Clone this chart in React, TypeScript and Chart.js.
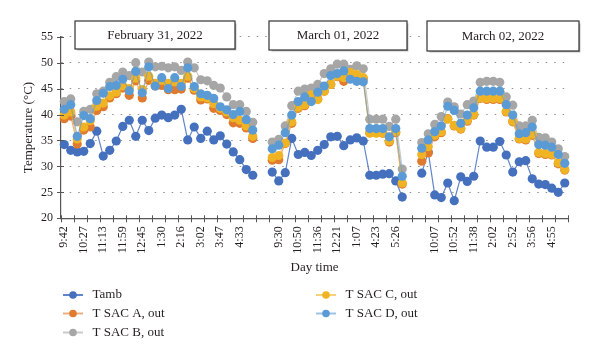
import React, { useEffect, useRef } from 'react';
import { Chart, registerables } from 'chart.js';

Chart.register(...registerables);

// ---- category labels per day (every third reading is labelled) ----
const labelsFeb31 = ['9:42', '', '', '10:27', '', '', '11:13', '', '', '11:59', '', '', '12:45', '', '', '1:30', '', '', '2:16', '', '', '3:02', '', '', '3:47', '', '', '4:33', '', ''];
const labelsMar01 = ['', '9:30', '', '', '10:50', '', '', '11:36', '', '', '12:21', '', '', '1:07', '', '', '4:23', '', '', '5:26', ''];
const labelsMar02 = ['', '', '10:07', '', '', '10:52', '', '', '11:38', '', '', '2:02', '', '', '2:52', '', '', '3:56', '', '', '4:55', '', ''];
const gapLabels = ['', ''];

const dayTitles = ['February 31, 2022', 'March 01, 2022', 'March 02, 2022'];

// ---- series values per day ----
const tambFeb31 = [34.2, 33.1, 32.8, 32.9, 34.4, 36.8, 32.0, 33.1, 34.9, 37.7, 38.9, 35.8, 38.9, 36.9, 39.3, 39.9, 39.4, 39.9, 41.0, 35.1, 37.6, 35.4, 36.8, 35.1, 35.9, 34.3, 32.8, 31.3, 29.4, 28.3];
const tambMar01 = [28.9, 27.2, 28.8, 35.4, 32.3, 32.7, 32.1, 33.1, 34.2, 35.7, 35.8, 34.0, 35.1, 35.5, 34.9, 28.3, 28.3, 28.5, 28.6, 27.2, 24.1];
const tambMar02 = [28.7, 32.8, 24.5, 24.0, 26.8, 23.4, 28.0, 27.1, 28.1, 34.9, 33.7, 33.7, 34.8, 32.2, 28.9, 30.9, 31.1, 27.6, 26.6, 26.5, 25.8, 25.0, 26.8];

const sacAFeb31 = [39.2, 39.7, 34.3, 37.0, 37.6, 40.8, 41.5, 43.2, 44.0, 45.1, 43.7, 46.5, 43.2, 46.6, 45.5, 45.6, 44.8, 44.8, 44.9, 47.0, 44.7, 42.8, 43.0, 41.2, 40.8, 40.0, 38.4, 38.3, 37.4, 35.4];
const sacAMar01 = [31.2, 31.3, 34.4, 38.3, 41.2, 41.7, 43.6, 43.0, 44.5, 45.8, 47.3, 46.4, 47.7, 47.4, 46.9, 36.5, 36.5, 36.4, 34.7, 36.5, 26.6];
const sacAMar02 = [31.0, 32.6, 35.7, 36.5, 39.2, 37.8, 37.2, 38.7, 39.9, 43.1, 42.9, 42.9, 42.9, 40.5, 38.6, 35.3, 35.1, 36.0, 32.5, 32.3, 32.2, 30.5, 29.3];

const sacBFeb31 = [42.5, 43.0, 38.6, 40.6, 41.0, 44.0, 44.5, 46.2, 47.3, 48.2, 47.5, 50.0, 48.2, 50.1, 49.2, 49.3, 49.0, 49.2, 48.5, 50.1, 49.0, 46.7, 46.5, 45.6, 45.1, 43.4, 41.9, 41.9, 40.6, 38.5];
const sacBMar01 = [34.7, 35.2, 37.8, 41.7, 44.5, 44.9, 45.1, 45.8, 47.9, 48.8, 49.7, 49.7, 48.7, 49.4, 48.8, 39.1, 39.1, 39.1, 37.7, 39.1, 29.5];
const sacBMar02 = [34.6, 36.3, 38.1, 39.6, 42.4, 41.5, 40.1, 41.9, 42.6, 46.2, 46.4, 46.4, 46.2, 43.4, 41.8, 37.8, 37.8, 38.9, 35.6, 35.5, 34.7, 33.4, 31.9];

const sacCFeb31 = [39.9, 40.5, 35.3, 37.6, 38.8, 41.6, 42.2, 43.6, 44.3, 45.5, 45.0, 47.0, 44.8, 47.4, 46.0, 46.6, 46.0, 46.3, 46.0, 47.4, 45.0, 43.4, 43.2, 42.1, 41.2, 40.5, 39.4, 38.9, 37.8, 35.8];
const sacCMar01 = [31.7, 32.1, 34.5, 38.6, 41.4, 41.9, 43.8, 42.9, 44.5, 45.8, 47.4, 47.1, 48.1, 47.7, 47.1, 36.4, 36.4, 36.4, 34.9, 36.7, 26.8];
const sacCMar02 = [32.3, 33.8, 36.0, 36.7, 39.1, 37.9, 37.3, 38.9, 40.0, 43.2, 43.1, 43.1, 43.1, 40.6, 38.7, 35.4, 35.3, 36.2, 32.7, 32.5, 32.3, 30.7, 29.4];

const sacDFeb31 = [41.0, 41.9, 35.8, 39.8, 39.2, 42.7, 44.1, 45.4, 45.6, 46.8, 44.6, 48.3, 44.2, 49.2, 45.5, 47.1, 45.0, 47.1, 45.4, 49.0, 45.4, 44.0, 43.7, 43.1, 41.5, 40.9, 40.0, 40.6, 39.0, 37.0];
const sacDMar01 = [33.4, 34.1, 36.5, 39.9, 42.5, 43.4, 42.5, 44.3, 45.5, 47.5, 47.9, 48.4, 46.8, 46.4, 46.3, 37.3, 37.3, 37.3, 35.7, 37.3, 28.1];
const sacDMar02 = [33.5, 35.1, 36.7, 37.8, 41.6, 40.8, 38.3, 39.9, 41.3, 44.5, 44.5, 44.5, 44.5, 41.9, 39.9, 36.3, 36.5, 37.6, 34.2, 34.1, 33.7, 32.3, 30.6];

const yTicks = [20, 25, 30, 35, 40, 45, 50, 55];

const categories = [...labelsFeb31, ...gapLabels, ...labelsMar01, ...gapLabels, ...labelsMar02];
const gap = [null, null];
const joinDays = (a: number[], b: number[], c: number[]) => [...a, ...gap, ...b, ...gap, ...c];

const SERIF = "'Liberation Serif', 'Times New Roman', serif";
const TEXT = '#231f20';

const seriesDefs = [
  { label: 'Tamb', data: joinDays(tambFeb31, tambMar01, tambMar02), color: '#4470BE', line: 'rgba(68,112,190,0.85)', order: 5 },
  { label: 'T SAC A, out', data: joinDays(sacAFeb31, sacAMar01, sacAMar02), color: '#E07A2E', line: 'rgba(224,122,46,0.6)', order: 4 },
  { label: 'T SAC B, out', data: joinDays(sacBFeb31, sacBMar01, sacBMar02), color: '#A6A6A6', line: 'rgba(166,166,166,0.6)', order: 3 },
  { label: 'T SAC C, out', data: joinDays(sacCFeb31, sacCMar01, sacCMar02), color: '#F0B323', line: 'rgba(240,179,35,0.6)', order: 2 },
  { label: 'T SAC D, out', data: joinDays(sacDFeb31, sacDMar01, sacDMar02), color: '#5B9BD5', line: 'rgba(91,155,213,0.6)', order: 1 },
];

// legend layout: line start x and row y per series
const legendSlots = [
  { x: 63, y: 295 },
  { x: 63, y: 313.5 },
  { x: 63, y: 332.5 },
  { x: 316, y: 295 },
  { x: 316, y: 313.5 },
];

const dayBoxes = [
  { x: 75, y: 21, w: 160, h: 28 },
  { x: 269, y: 21, w: 138, h: 29 },
  { x: 427, y: 21, w: 152, h: 30 },
];

const decorPlugin = {
  id: 'decor',
  afterDraw(chart: any) {
    const { ctx } = chart;
    const xs = chart.scales.x;
    const ys = chart.scales.y;
    ctx.save();
    // cross tick marks
    ctx.strokeStyle = '#555';
    ctx.lineWidth = 1;
    const n = categories.length;
    const w = (xs.right - xs.left) / n;
    ctx.beginPath();
    for (let k = 0; k <= n; k += 2) {
      const x = Math.round(xs.left + k * w) + 0.5;
      ctx.moveTo(x, ys.bottom - 3);
      ctx.lineTo(x, ys.bottom + 4);
    }
    yTicks.forEach((v) => {
      const y = Math.round(ys.getPixelForValue(v)) + 0.5;
      ctx.moveTo(xs.left - 4, y);
      ctx.lineTo(xs.left + 3, y);
    });
    ctx.stroke();

    // day boxes
    dayBoxes.forEach((b, i) => {
      ctx.save();
      ctx.shadowColor = 'rgba(0,0,0,0.35)';
      ctx.shadowOffsetX = 1.5;
      ctx.shadowOffsetY = 1.5;
      ctx.shadowBlur = 1.5;
      ctx.fillStyle = '#fff';
      ctx.fillRect(b.x, b.y, b.w, b.h);
      ctx.restore();
      ctx.strokeStyle = '#333';
      ctx.lineWidth = 1.2;
      ctx.strokeRect(b.x, b.y, b.w, b.h);
      ctx.fillStyle = TEXT;
      ctx.font = `13px ${SERIF}`;
      ctx.textAlign = 'center';
      ctx.textBaseline = 'middle';
      ctx.fillText(dayTitles[i], b.x + b.w / 2, b.y + b.h / 2 + 0.5);
    });

    // legend
    seriesDefs.forEach((s, i) => {
      const slot = legendSlots[i];
      ctx.strokeStyle = s.line;
      ctx.lineWidth = 2;
      ctx.beginPath();
      ctx.moveTo(slot.x, slot.y);
      ctx.lineTo(slot.x + 20, slot.y);
      ctx.stroke();
      ctx.fillStyle = s.color;
      ctx.beginPath();
      ctx.arc(slot.x + 10, slot.y, 3.8, 0, Math.PI * 2);
      ctx.fill();
      ctx.fillStyle = TEXT;
      ctx.font = `13px ${SERIF}`;
      ctx.textAlign = 'left';
      ctx.textBaseline = 'middle';
      ctx.fillText(s.label, slot.x + 29.5, slot.y);
    });
    ctx.restore();
  },
};

export default function App() {
  const ref = useRef<HTMLCanvasElement>(null);
  useEffect(() => {
    const chart = new Chart(ref.current as HTMLCanvasElement, {
      type: 'line',
      data: {
        labels: categories,
        datasets: seriesDefs.map((s) => ({
          label: s.label,
          data: s.data,
          borderColor: s.line,
          borderWidth: 1.2,
          backgroundColor: s.color,
          pointBackgroundColor: s.color,
          pointBorderColor: s.color,
          pointBorderWidth: 0,
          pointRadius: 4.6,
          pointHoverRadius: 4.6,
          spanGaps: false,
          tension: 0,
          order: s.order,
        })),
      },
      options: {
        responsive: false,
        devicePixelRatio: 1,
        animation: false,
        layout: { padding: { left: 17, top: 36.7, right: 32, bottom: 80 } },
        plugins: { legend: { display: false }, tooltip: { enabled: false } },
        scales: {
          x: {
            type: 'category',
            offset: true,
            grid: { drawOnChartArea: false, offset: true, tickLength: 5, color: 'rgba(0,0,0,0)' },
            border: { display: true, color: '#555', width: 1.2 },
            ticks: {
              autoSkip: false,
              minRotation: 90,
              maxRotation: 90,
              padding: 3,
              color: TEXT,
              font: { family: SERIF, size: 12 },
              callback: (_v: any, i: number) => categories[i],
            },
            title: { display: true, text: 'Day time', color: TEXT, font: { family: SERIF, size: 13 }, padding: { top: 4, bottom: 4 } },
            afterFit: (s: any) => { s.height = 60.7; },
          },
          y: {
            min: 20,
            max: 55,
            afterBuildTicks: (s: any) => { s.ticks = yTicks.map((v) => ({ value: v })); },
            ticks: { padding: 3, color: TEXT, font: { family: SERIF, size: 12 } },
            grid: { color: '#8f8f8f', lineWidth: 1, tickLength: 5, tickColor: 'rgba(0,0,0,0)' },
            border: { display: true, color: '#555', width: 1.2, dash: [1.5, 7] },
            title: { display: true, text: 'Temperature (°C)', color: TEXT, font: { family: SERIF, size: 13 }, padding: { top: 4, bottom: 4 } },
            afterFit: (s: any) => { s.width = 44; },
          },
        },
      },
      plugins: [decorPlugin],
    } as any);
    return () => chart.destroy();
  }, []);
  return (
    <div style={{ position: 'fixed', left: 0, top: 0, width: 600, height: 359, background: '#fff' }}>
      <canvas ref={ref} width={600} height={359} style={{ display: 'block', width: 600, height: 359 }} />
    </div>
  );
}
